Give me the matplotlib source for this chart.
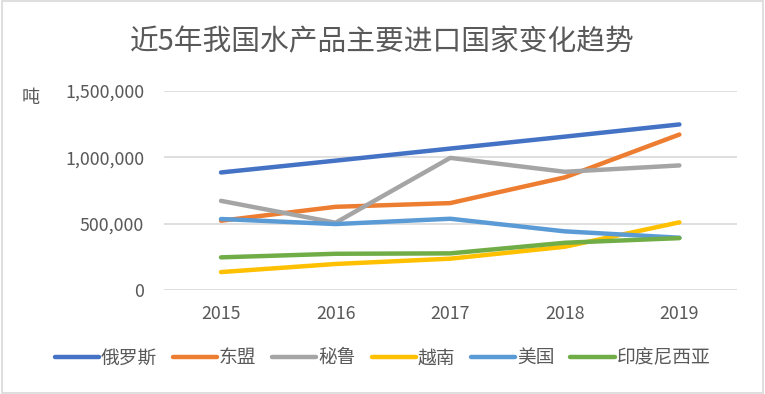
import matplotlib
matplotlib.use("Agg")
import matplotlib.pyplot as plt
from matplotlib.patches import Rectangle
from matplotlib.ticker import FuncFormatter

plt.rcParams["font.family"] = ["Noto Sans CJK SC", "DejaVu Sans"]

# --- data (tonnes) ---------------------------------------------------------
years = ["2015", "2016", "2017", "2018", "2019"]
russia = [886000, 975000, 1066000, 1156000, 1248000]
asean = [522000, 627000, 655000, 849000, 1172000]
peru = [672000, 507000, 996000, 891000, 939000]
vietnam = [135000, 196000, 236000, 326000, 510000]
usa = [535000, 497000, 537000, 442000, 394000]
indonesia = [246000, 273000, 276000, 356000, 391000]

names = ["俄罗斯", "东盟", "秘鲁", "越南", "美国", "印度尼西亚"]
series = [russia, asean, peru, vietnam, usa, indonesia]
colors = ["#4472C4", "#ED7D31", "#A5A5A5", "#FFC000", "#5B9BD5", "#70AD47"]
TXT = "#595959"

fig = plt.figure(figsize=(7.65, 3.94), dpi=100)
ax = fig.add_axes([0.214, 0.264, 0.749, 0.505])

x = range(len(years))
for name, vals, c in zip(names, series, colors):
    ax.plot(x, vals, color=c, lw=3.2, solid_capstyle="round", label=name)

ax.set_xlim(-0.5, len(years) - 0.5)
ax.set_ylim(0, 1500000)
ax.set_yticks([0, 500000, 1000000, 1500000])
ax.yaxis.set_major_formatter(FuncFormatter(lambda v, p: f"{int(v):,}"))
ax.set_xticks(list(x))
ax.set_xticklabels(years)
ax.grid(axis="y", color="#D9D9D9", lw=1.2)
ax.set_axisbelow(True)
for s in ax.spines.values():
    s.set_visible(False)
ax.tick_params(length=0, labelsize=12.8, labelcolor=TXT)
ax.tick_params(axis="x", pad=11)
ax.tick_params(axis="y", pad=14)

fig.text(0.5, 0.893, "近5年我国水产品主要进口国家变化趋势", ha="center", va="center",
         fontsize=20.7, color=TXT)
fig.text(0.04, 0.752, "吨", ha="center", va="center", fontsize=13, color=TXT)

fig.legend(loc="center", bbox_to_anchor=(0.5, 0.092), ncol=6, frameon=False,
           fontsize=13.5, handlelength=2.35, handletextpad=0.1, columnspacing=0.85,
           labelcolor=TXT)

fig.patches.append(Rectangle((0.002, 0.003), 0.996, 0.994, transform=fig.transFigure,
                             fill=False, edgecolor="#D9D9D9", lw=1.2))

fig.savefig("out.png", dpi=100)
